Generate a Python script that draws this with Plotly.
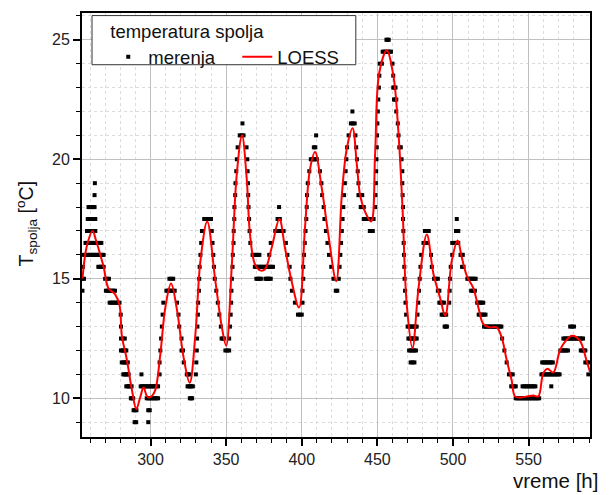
import plotly.graph_objects as go

# ---------------- DATA ----------------
# Measurements ("merenja"): horizontal runs of 0.5 degC readings: (value, first hour, last hour)
meas_255_300 = [
    (14.5, 255, 255), (15.0, 255, 256), (15.5, 255.3, 255.3),
    (16.0, 256, 269), (16.5, 257, 267.5), (17.0, 258, 263.5), (17.5, 258.5, 263.5),
    (18.0, 259, 263), (18.5, 263, 263), (19.0, 263.2, 263.2),
    (15.5, 265.5, 269), (15.0, 270, 272.5), (14.5, 270.5, 276.5), (14.0, 273, 279.5),
    (13.5, 280.3, 280.3), (13.0, 280.5, 280.5), (12.5, 280.5, 283), (12.0, 280.5, 284),
    (11.5, 281, 285), (11.0, 282, 285.5), (10.5, 284, 287.5), (10.0, 287, 288.5),
    (9.5, 288.8, 290.7), (9.0, 289.5, 290.5),
    (11.0, 294, 294), (10.5, 293.5, 305), (10.0, 297.5, 305), (9.5, 298.5, 299.5), (9.0, 298.5, 298.5),
]
meas_300_352 = [
    (11.0, 306, 306), (11.5, 306, 306), (12.0, 306.5, 306.5), (12.5, 307, 307), (13.0, 307.5, 307.5),
    (13.5, 308, 308), (14.0, 308.5, 308.5), (14.5, 310.5, 316), (15.0, 312.5, 315),
    (14.0, 317.5, 317.5), (13.5, 318.5, 318.5), (13.0, 319, 319), (12.5, 320.5, 320.5),
    (12.0, 320.5, 321.5), (11.5, 322, 322.5), (11.0, 324, 325.5), (10.5, 324.5, 328), (10.0, 326, 327.5),
    (11.0, 330, 330), (11.5, 330.3, 330.3), (12.0, 330.6, 330.6), (12.5, 330.8, 330.8), (13.0, 331, 331),
    (13.5, 331.3, 331.3), (14.0, 331.5, 331.5), (14.5, 332, 332), (15.0, 332.2, 332.2), (15.5, 332.5, 332.5),
    (16.0, 333, 333), (16.5, 333.5, 333.5), (17.0, 334, 334), (17.5, 335.5, 340),
    (17.0, 340.5, 340.5), (16.5, 341, 341), (16.0, 341.5, 341.5), (15.5, 342, 342), (15.0, 342.5, 342.5),
    (14.5, 343.5, 343.5), (14.0, 344.5, 344.5), (13.5, 345.5, 345.5), (13.0, 346.5, 346.5),
    (12.5, 347, 348.5), (12.0, 349.5, 352), (12.5, 352, 352),
]
meas_352_410 = [
    (13.0, 352.5, 352.5), (13.5, 353, 353), (14.0, 353.3, 353.3), (14.5, 353.5, 353.5), (15.0, 353.8, 353.8),
    (15.5, 354.2, 354.2), (16.0, 354.4, 354.4), (16.5, 354.9, 354.9), (17.0, 355, 355), (17.5, 355.4, 355.4),
    (18.0, 355.5, 355.5), (18.5, 356, 356), (19.0, 356.2, 356.2), (19.5, 356.7, 356.7), (20.0, 357.1, 357.1),
    (20.5, 357.6, 357.6), (21.0, 359, 361.5), (21.5, 360.8, 360.8),
    (20.5, 363.5, 363.5), (20.0, 364, 364), (19.5, 364.2, 364.2), (19.0, 364.4, 364.4), (18.5, 364.6, 364.6),
    (18.0, 364.8, 364.8), (17.5, 365.2, 365.2), (17.0, 365.5, 365.5), (16.5, 366, 366),
    (16.0, 367.5, 372), (15.5, 369, 381), (15.0, 370, 373), (15.0, 376, 379.5),
    (16.0, 378.5, 378.5), (16.5, 379.5, 379.5), (17.0, 382.5, 388), (17.5, 384, 385.5), (18.0, 385, 385),
    (16.5, 389.5, 389.5), (16.0, 390.5, 390.5), (15.5, 392, 392), (15.0, 392.5, 392.5), (14.5, 393.5, 393.5),
    (14.0, 395.5, 395.5), (13.5, 397.5, 400),
    (14.0, 400.5, 400.5), (14.5, 400.5, 400.5), (15.0, 401, 401), (15.5, 401, 401), (16.0, 401.5, 401.5),
    (16.5, 402, 402), (17.0, 402.5, 402.5), (17.5, 403, 403), (18.0, 403.3, 403.3), (18.5, 403.5, 403.5),
    (19.0, 404, 404), (19.5, 405, 405), (20.0, 406, 410), (20.5, 408, 409), (21.0, 409.5, 409.5),
]
meas_410_470 = [
    (19.5, 412, 412), (19.0, 413, 413), (18.5, 413.5, 413.5), (18.0, 414.5, 414.5), (17.5, 415, 415),
    (17.0, 416, 416), (16.5, 417, 417), (16.0, 418, 418), (15.5, 419.5, 419.5), (15.0, 421, 421),
    (14.5, 422.5, 423.5),
    (15.0, 424.5, 424.5), (15.5, 425, 425), (16.0, 425.5, 425.5), (16.5, 426, 426), (17.0, 426.5, 426.5),
    (17.5, 427, 427), (18.0, 427.5, 427.5), (18.5, 428, 428), (19.0, 428.5, 428.5), (19.5, 429, 429),
    (20.0, 429.5, 429.5), (20.5, 430, 430), (21.0, 431, 431), (21.5, 432.5, 435), (22.0, 433.5, 433.5),
    (21.0, 435.5, 435.5), (20.5, 436, 436), (20.0, 436.5, 436.5), (19.5, 437, 437), (19.0, 437.5, 437.5),
    (18.5, 437.5, 440), (18.0, 439, 441), (17.5, 441, 445), (17.0, 445, 447),
    (17.5, 447.5, 447.5), (18.0, 448.5, 448.5), (18.5, 448.7, 448.7), (19.0, 449, 449), (19.5, 449.2, 449.2),
    (20.0, 449.4, 449.4), (20.5, 449.6, 449.6), (21.0, 449.8, 449.8), (21.5, 450, 450), (22.0, 450.3, 450.3),
    (22.5, 450.6, 450.6), (23.0, 451, 451), (23.5, 451.3, 451.3), (24.0, 451.6, 453), (24.5, 453.5, 459),
    (25.0, 456, 457.5),
    (24.0, 460, 460), (23.5, 460.5, 460.5), (23.0, 460.5, 462), (22.5, 461, 462.5), (22.0, 462.5, 463),
    (21.5, 463.5, 463.5), (21.0, 464, 464), (20.5, 464.5, 465.5), (20.0, 466, 466), (19.5, 466.5, 466.5),
    (19.0, 466.5, 466.5), (18.5, 466.7, 466.7), (18.0, 467, 467), (17.5, 467, 467), (17.0, 467.2, 467.2),
    (16.5, 467.4, 467.4), (16.0, 467.6, 467.6), (15.5, 467.8, 467.8), (15.0, 468, 468), (14.5, 468.3, 468.3),
    (14.0, 468.6, 468.6), (13.5, 469, 469),
]
meas_470_590 = [
    (13.0, 470, 476), (12.5, 470.5, 476), (12.0, 471, 475.5), (11.5, 472, 474.5),
    (13.5, 476.5, 476.5), (14.0, 477, 477), (14.5, 477.5, 477.5), (15.0, 478, 478), (15.5, 478.5, 478.5),
    (16.0, 479, 479), (16.5, 480.5, 483), (17.0, 481.5, 484),
    (16.0, 485.5, 485.5), (15.5, 486, 486), (15.0, 487.5, 490), (14.5, 490, 491), (14.0, 491, 494),
    (13.5, 492.5, 495.5), (13.0, 494.5, 496),
    (14.0, 497.5, 497.5), (14.5, 497.8, 497.8), (15.0, 498, 498), (15.5, 498.5, 498.5), (16.0, 499.5, 499.5),
    (16.5, 499.5, 503.5), (17.0, 502, 503.5), (17.5, 502.5, 502.5),
    (16.0, 505, 506.5), (15.5, 506, 507), (15.0, 509.5, 515), (14.5, 512, 514.5), (14.0, 516, 520),
    (13.5, 517, 521.5), (13.0, 520.5, 532), (12.5, 532.5, 532.5), (12.0, 534, 534), (11.5, 535.5, 535.5),
    (11.0, 537, 539.5), (10.5, 538.5, 541.5), (10.5, 546, 554.5), (10.0, 541.5, 557),
    (11.0, 558.5, 570.5), (11.5, 559, 566), (10.5, 565, 565), (12.0, 571, 576), (12.5, 573, 586),
    (13.0, 577.5, 580), (12.0, 584.5, 587.5), (11.5, 587.5, 590), (11.0, 589.5, 590),
]

# LOESS curve (hour, degC)
loess_t = [255, 258, 261.7, 264, 266.8, 269, 272.2, 276.6, 279.5, 281.1, 284.4, 287.7, 290.6, 293, 295.4,
           297.5, 299, 301, 303.2, 306.5, 309.8, 313.6, 317.5, 321.9, 325.9, 329.7, 333, 337.5, 342.7,
           347.1, 350, 353.7, 357, 360.5, 363.6, 365.8, 369.1, 372.5, 375.7, 380.1, 385.2, 388.9, 393.3,
           398.2, 402.1, 405.5, 408.8, 413.2, 417.6, 422.8, 426.5, 429.8, 433.6, 436.4, 438.6, 441.9,
           445.9, 448.5, 451.2, 456.2, 460.6, 463.9, 466.6, 469.4, 473.2, 477.2, 482.7, 487.1, 491.5,
           494.9, 499.2, 503.1, 505.8, 509.3, 513.5, 516.8, 520.1, 524, 528.9, 532.2, 535.5, 538.8,
           541.0, 544.3, 549, 553.1, 556.4, 559.7, 562.5, 566.3, 570.7, 574.5, 578.8, 583.9, 588.3, 590.6]
loess_T = [15.0, 16.4, 17.0, 16.6, 16.0, 15.5, 14.6, 14.35, 13.9, 12.6, 11.6, 10.35, 9.55, 10.0, 10.45,
           10.1, 10.03, 10.1, 10.35, 11.85, 13.8, 14.8, 13.7, 11.7, 10.65, 12.7, 15.75, 17.4, 15.0,
           13.0, 12.2, 15.5, 19.35, 21.0, 19.2, 16.85, 15.6, 15.35, 15.4, 16.3, 17.5, 16.3, 14.9,
           13.8, 17.1, 19.6, 20.3, 18.8, 16.85, 14.9, 18.5, 20.45, 21.3, 19.8, 18.5, 17.8,
           17.4, 20.2, 23.6, 24.55, 23.5, 21.15, 18.0, 13.95, 12.1, 14.6, 16.85, 15.2, 14.2,
           13.45, 15.75, 16.6, 15.9, 15.1, 14.6, 13.8, 13.1, 12.97, 12.97, 12.55, 11.6, 10.75,
           10.08, 10.03, 10.08, 10.12, 10.08, 11.05, 11.24, 11.08, 12.0, 12.4, 12.62, 12.41, 11.58, 11.1]

x_title = "vreme [h]"
y_title = "T<sub>spolja</sub> [<sup>o</sup>C]"
legend_title = "temperatura spolja"
names = ["merenja", "LOESS"]


def expand(runs):
    ts, vs = [], []
    for v, a, b in runs:
        n = int(round(b - a)) + 1
        for k in range(n):
            ts.append(a + (b - a) * k / max(n - 1, 1))
            vs.append(v)
    return ts, vs


meas_t, meas_T = [], []
for block in (meas_255_300, meas_300_352, meas_352_410, meas_410_470, meas_470_590):
    t, v = expand(block)
    meas_t += t
    meas_T += v

fig = go.Figure()
fig.add_trace(go.Scatter(x=meas_t, y=meas_T, mode="markers", name=names[0],
                         marker=dict(symbol="square", size=4, color="black", line=dict(width=0))))
fig.add_trace(go.Scatter(x=loess_t, y=loess_T, mode="lines", name=names[1],
                         line=dict(color="#ff0000", width=2, shape="spline", smoothing=1.0)))

axis_common = dict(showline=True, linewidth=2, linecolor="black", mirror=True,
                   ticks="outside", ticklen=7, tickwidth=1.5, tickcolor="black",
                   showgrid=True, gridcolor="#c0c0c0", gridwidth=1, zeroline=False,
                   tickfont=dict(size=16, color="#222"))

fig.update_xaxes(range=[254.7, 590.6], tick0=0, dtick=50,
                 minor=dict(dtick=10, ticks="outside", ticklen=4, tickwidth=1.2, tickcolor="black",
                            showgrid=True, gridcolor="#dcdcdc", griddash="dot", gridwidth=1),
                 **axis_common)
fig.update_yaxes(range=[8.38, 26.12], tick0=0, dtick=5,
                 minor=dict(dtick=1, ticks="outside", ticklen=4, tickwidth=1.2, tickcolor="black",
                            showgrid=True, gridcolor="#dcdcdc", griddash="dot", gridwidth=1),
                 **axis_common)

fig.update_layout(
    width=611, height=495,
    margin=dict(l=82, r=21, t=11, b=58),
    plot_bgcolor="white", paper_bgcolor="white",
    font=dict(family="Arial, Liberation Sans, sans-serif", size=16, color="#222"),
    legend=dict(orientation="h", x=0.0517, y=0.997, xanchor="left", yanchor="top",
                bgcolor="rgba(0,0,0,0)", borderwidth=0,
                entrywidth=84, entrywidthmode="pixels",
                font=dict(size=18.5, color="#111"),
                title=dict(text=legend_title, side="top", font=dict(size=18.5, color="#111"))),
    shapes=[
        dict(type="rect", xref="paper", yref="paper", x0=0.0197, x1=0.539, y0=0.878, y1=0.9939,
             line=dict(color="#333", width=1), fillcolor="white", layer="above"),
    ],
    annotations=[
        dict(text=x_title, xref="paper", yref="paper", x=0.933, y=-0.102,
             xanchor="center", yanchor="middle", showarrow=False, font=dict(size=20.5, color="#111")),
        dict(text=y_title, xref="paper", yref="paper", x=-0.11, y=0.504, textangle=-90,
             xanchor="center", yanchor="middle", showarrow=False, font=dict(size=19.5, color="#111")),
    ],
)

fig.write_html("out.html")
